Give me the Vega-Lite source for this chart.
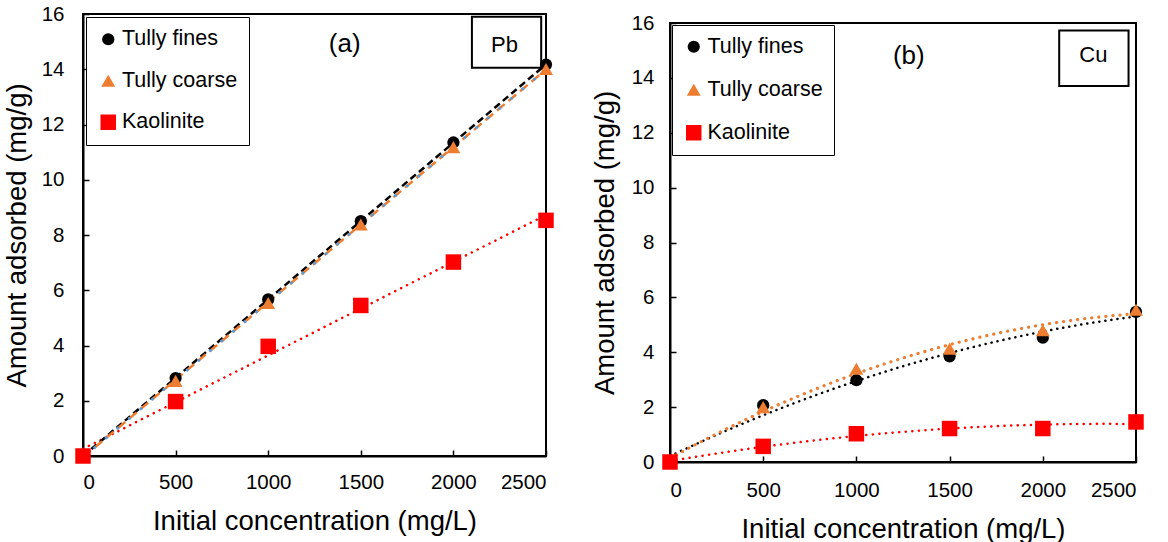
{
  "$schema": "https://vega.github.io/schema/vega-lite/v6.json",
  "background": "white",
  "padding": {"left": 2, "top": 3, "right": 5, "bottom": 0},
  "config": {
    "font": "Liberation Sans",
    "view": {"stroke": "black", "strokeWidth": 2},
    "axis": {
      "grid": false,
      "domainColor": "black",
      "domainWidth": 2,
      "tickColor": "black",
      "tickWidth": 1.5,
      "tickSize": -6,
      "labelFont": "Liberation Sans",
      "labelFontSize": 20.5,
      "labelColor": "black",
      "titleFont": "Liberation Sans",
      "titleFontSize": 27.5,
      "titleFontWeight": "normal",
      "titleColor": "black"
    },
    "legend": {
      "orient": "top-left",
      "offset": 3,
      "labelFont": "Liberation Sans",
      "labelFontSize": 21.5,
      "labelColor": "black",
      "labelLimit": 300,
      "labelOffset": 3,
      "strokeColor": "black",
      "fillColor": "white",
      "padding": 11,
      "symbolStrokeWidth": 0,
      "symbolOpacity": 1
    }
  },
  "datasets": {
    "ads": [
      {"metal": "Pb", "material": "Tully fines", "c": 0, "q": 0},
      {"metal": "Pb", "material": "Tully fines", "c": 500, "q": 2.82},
      {"metal": "Pb", "material": "Tully fines", "c": 1000, "q": 5.67},
      {"metal": "Pb", "material": "Tully fines", "c": 1500, "q": 8.5},
      {"metal": "Pb", "material": "Tully fines", "c": 2000, "q": 11.35},
      {"metal": "Pb", "material": "Tully fines", "c": 2500, "q": 14.17},
      {"metal": "Pb", "material": "Tully coarse", "c": 0, "q": 0},
      {"metal": "Pb", "material": "Tully coarse", "c": 500, "q": 2.72},
      {"metal": "Pb", "material": "Tully coarse", "c": 1000, "q": 5.54},
      {"metal": "Pb", "material": "Tully coarse", "c": 1500, "q": 8.38},
      {"metal": "Pb", "material": "Tully coarse", "c": 2000, "q": 11.18},
      {"metal": "Pb", "material": "Tully coarse", "c": 2500, "q": 14.01},
      {"metal": "Pb", "material": "Kaolinite", "c": 0, "q": 0},
      {"metal": "Pb", "material": "Kaolinite", "c": 500, "q": 1.97},
      {"metal": "Pb", "material": "Kaolinite", "c": 1000, "q": 3.97},
      {"metal": "Pb", "material": "Kaolinite", "c": 1500, "q": 5.45},
      {"metal": "Pb", "material": "Kaolinite", "c": 2000, "q": 7.02},
      {"metal": "Pb", "material": "Kaolinite", "c": 2500, "q": 8.53},
      {"metal": "Cu", "material": "Tully fines", "c": 0, "q": 0},
      {"metal": "Cu", "material": "Tully fines", "c": 500, "q": 2.07},
      {"metal": "Cu", "material": "Tully fines", "c": 1000, "q": 2.98},
      {"metal": "Cu", "material": "Tully fines", "c": 1500, "q": 3.85},
      {"metal": "Cu", "material": "Tully fines", "c": 2000, "q": 4.53},
      {"metal": "Cu", "material": "Tully fines", "c": 2500, "q": 5.47},
      {"metal": "Cu", "material": "Tully coarse", "c": 0, "q": 0},
      {"metal": "Cu", "material": "Tully coarse", "c": 500, "q": 2.0},
      {"metal": "Cu", "material": "Tully coarse", "c": 1000, "q": 3.4},
      {"metal": "Cu", "material": "Tully coarse", "c": 1500, "q": 4.13},
      {"metal": "Cu", "material": "Tully coarse", "c": 2000, "q": 4.8},
      {"metal": "Cu", "material": "Tully coarse", "c": 2500, "q": 5.55},
      {"metal": "Cu", "material": "Kaolinite", "c": 0, "q": 0},
      {"metal": "Cu", "material": "Kaolinite", "c": 500, "q": 0.57},
      {"metal": "Cu", "material": "Kaolinite", "c": 1000, "q": 1.03},
      {"metal": "Cu", "material": "Kaolinite", "c": 1500, "q": 1.22},
      {"metal": "Cu", "material": "Kaolinite", "c": 2000, "q": 1.22},
      {"metal": "Cu", "material": "Kaolinite", "c": 2500, "q": 1.46}
    ]
  },
  "spacing": 35,
  "resolve": {
    "scale": {"color": "independent", "shape": "independent", "size": "independent"},
    "legend": {"color": "independent", "shape": "independent", "size": "independent"}
  },
  "hconcat": [
    {
      "width": 463,
      "height": 442,
      "encoding": {
        "x": {
          "field": "c", "type": "quantitative",
          "scale": {"domain": [0, 2500], "nice": false},
          "axis": {"values": [0, 500, 1000, 1500, 2000, 2500], "format": "d", "labelPadding": 22, "titlePadding": 15},
          "title": "Initial concentration (mg/L)"
        },
        "y": {
          "field": "q", "type": "quantitative",
          "scale": {"domain": [0, 16], "nice": false},
          "axis": {"values": [0, 2, 4, 6, 8, 10, 12, 14, 16], "labelPadding": 25, "titlePadding": 10},
          "title": "Amount adsorbed (mg/g)"
        }
      },
      "layer": [
        {
          "data": {"name": "ads"},
          "transform": [{"filter": "datum.metal === 'Pb' && datum.material === 'Tully fines' && datum.c === 0"}],
          "mark": {"type": "rect", "fill": "white", "stroke": "black", "strokeWidth": 2},
          "encoding": {
            "x": {"datum": 2100}, "x2": {"datum": 2474},
            "y": {"datum": 15.9}, "y2": {"datum": 14.05}
          }
        },
        {
          "data": {"name": "ads"},
          "transform": [{"filter": "datum.metal === 'Pb' && datum.material === 'Tully fines' && datum.c === 0"}],
          "mark": {"type": "text", "text": "Pb", "fontSize": 22, "color": "black"},
          "encoding": {"x": {"datum": 2276}, "y": {"datum": 14.86}}
        },
        {
          "data": {"name": "ads"},
          "transform": [{"filter": "datum.metal === 'Pb' && datum.material === 'Tully fines' && datum.c === 0"}],
          "mark": {"type": "text", "text": "(a)", "fontSize": 26, "color": "black"},
          "encoding": {"x": {"datum": 1413}, "y": {"datum": 14.92}}
        },
        {
          "data": {"name": "ads"},
          "transform": [
            {"filter": "datum.metal === 'Pb' && datum.material === 'Kaolinite'"},
            {"regression": "q", "on": "c", "method": "linear"}
          ],
          "mark": {"type": "line", "stroke": "#FF0000", "strokeWidth": 2.5, "strokeCap": "round", "strokeDash": [0.1, 6.5]},
          "encoding": {}
        },
        {
          "data": {"name": "ads"},
          "transform": [
            {"filter": "datum.metal === 'Pb' && datum.material === 'Tully fines'"},
            {"regression": "q", "on": "c", "method": "linear"}
          ],
          "mark": {"type": "line", "stroke": "black", "strokeWidth": 2.5, "strokeCap": "butt", "strokeDash": [7, 4]},
          "encoding": {}
        },
        {
          "data": {"name": "ads"},
          "transform": [
            {"filter": "datum.metal === 'Pb' && datum.material === 'Tully coarse'"},
            {"regression": "q", "on": "c", "method": "linear"}
          ],
          "mark": {"type": "line", "stroke": "#ED7D31", "strokeWidth": 2.5, "strokeCap": "butt", "strokeDash": [10, 5]},
          "encoding": {}
        },
        {
          "data": {"name": "ads"},
          "transform": [
            {"filter": "datum.metal === 'Pb' && datum.material === 'Tully coarse'"},
            {"regression": "q", "on": "c", "method": "linear"}
          ],
          "mark": {"type": "line", "stroke": "#5B9BD5", "strokeWidth": 3, "strokeCap": "round", "strokeDash": [0.1, 15]},
          "encoding": {}
        },
        {
          "data": {"name": "ads"},
          "transform": [{"filter": "datum.metal === 'Pb'"}],
          "mark": {"type": "point", "filled": true, "opacity": 1},
          "encoding": {
            "color": {
              "field": "material", "type": "nominal", "title": null,
              "scale": {"domain": ["Tully fines", "Tully coarse", "Kaolinite"], "range": ["black", "#ED7D31", "#FF0000"]},
              "legend": {"rowPadding": 18.5, "padding": 11.5}
            },
            "shape": {
              "field": "material", "type": "nominal", "title": null,
              "scale": {"domain": ["Tully fines", "Tully coarse", "Kaolinite"], "range": ["circle", "triangle-up", "square"]}
            },
            "size": {
              "field": "material", "type": "nominal", "title": null,
              "scale": {"domain": ["Tully fines", "Tully coarse", "Kaolinite"], "range": [150, 240, 210]}
            }
          }
        }
      ]
    },
    {
      "spacing": 8,
      "bounds": "flush",
      "resolve": {
        "scale": {"color": "independent", "shape": "independent", "size": "independent"},
        "legend": {"color": "independent", "shape": "independent", "size": "independent"}
      },
      "vconcat": [
        {
          "width": 466,
          "height": 1,
          "view": {"stroke": null},
          "data": {"name": "ads"},
          "transform": [{"filter": "datum.metal === 'Cu' && datum.material === 'Tully fines' && datum.c === 0"}],
          "mark": {"type": "point", "opacity": 0},
          "encoding": {}
        },
        {
          "width": 466,
          "height": 439,
          "encoding": {
            "x": {
              "field": "c", "type": "quantitative",
              "scale": {"domain": [0, 2500], "nice": false},
              "axis": {"values": [0, 500, 1000, 1500, 2000, 2500], "format": "d", "labelPadding": 24, "titlePadding": 15},
              "title": "Initial concentration (mg/L)"
            },
            "y": {
              "field": "q", "type": "quantitative",
              "scale": {"domain": [0, 16], "nice": false},
              "axis": {"values": [0, 2, 4, 6, 8, 10, 12, 14, 16], "labelPadding": 22, "titlePadding": 12},
              "title": "Amount adsorbed (mg/g)"
            }
          },
          "layer": [
            {
              "data": {"name": "ads"},
              "transform": [{"filter": "datum.metal === 'Cu' && datum.material === 'Tully fines' && datum.c === 0"}],
              "mark": {"type": "rect", "fill": "white", "stroke": "black", "strokeWidth": 2},
              "encoding": {
                "x": {"datum": 2088}, "x2": {"datum": 2460},
                "y": {"datum": 15.73}, "y2": {"datum": 13.7}
              }
            },
            {
              "data": {"name": "ads"},
              "transform": [{"filter": "datum.metal === 'Cu' && datum.material === 'Tully fines' && datum.c === 0"}],
              "mark": {"type": "text", "text": "Cu", "fontSize": 22, "color": "black"},
              "encoding": {"x": {"datum": 2271}, "y": {"datum": 14.82}}
            },
            {
              "data": {"name": "ads"},
              "transform": [{"filter": "datum.metal === 'Cu' && datum.material === 'Tully fines' && datum.c === 0"}],
              "mark": {"type": "text", "text": "(b)", "fontSize": 26, "color": "black"},
              "encoding": {"x": {"datum": 1281}, "y": {"datum": 14.81}}
            },
            {
              "data": {"name": "ads"},
              "transform": [
                {"filter": "datum.metal === 'Cu' && datum.material === 'Kaolinite'"},
                {"regression": "q", "on": "c", "method": "poly", "order": 2}
              ],
              "mark": {"type": "line", "stroke": "#FF0000", "strokeWidth": 2.5, "strokeCap": "round", "strokeDash": [0.1, 6.5]},
              "encoding": {}
            },
            {
              "data": {"name": "ads"},
              "transform": [
                {"filter": "datum.metal === 'Cu' && datum.material === 'Tully fines'"},
                {"regression": "q", "on": "c", "method": "poly", "order": 2}
              ],
              "mark": {"type": "line", "stroke": "black", "strokeWidth": 2.5, "strokeCap": "round", "strokeDash": [0.1, 6]},
              "encoding": {}
            },
            {
              "data": {"name": "ads"},
              "transform": [
                {"filter": "datum.metal === 'Cu' && datum.material === 'Tully coarse'"},
                {"regression": "q", "on": "c", "method": "poly", "order": 2}
              ],
              "mark": {"type": "line", "stroke": "#ED7D31", "strokeWidth": 3.2, "strokeCap": "round", "strokeDash": [0.1, 7]},
              "encoding": {}
            },
            {
              "data": {"name": "ads"},
              "transform": [{"filter": "datum.metal === 'Cu'"}],
              "mark": {"type": "point", "filled": true, "opacity": 1},
              "encoding": {
                "color": {
                  "field": "material", "type": "nominal", "title": null,
                  "scale": {"domain": ["Tully fines", "Tully coarse", "Kaolinite"], "range": ["black", "#ED7D31", "#FF0000"]},
                  "legend": {"rowPadding": 20, "padding": 11, "offset": 2}
                },
                "shape": {
                  "field": "material", "type": "nominal", "title": null,
                  "scale": {"domain": ["Tully fines", "Tully coarse", "Kaolinite"], "range": ["circle", "triangle-up", "square"]}
                },
                "size": {
                  "field": "material", "type": "nominal", "title": null,
                  "scale": {"domain": ["Tully fines", "Tully coarse", "Kaolinite"], "range": [150, 240, 210]}
                }
              }
            }
          ]
        }
      ]
    }
  ]
}
